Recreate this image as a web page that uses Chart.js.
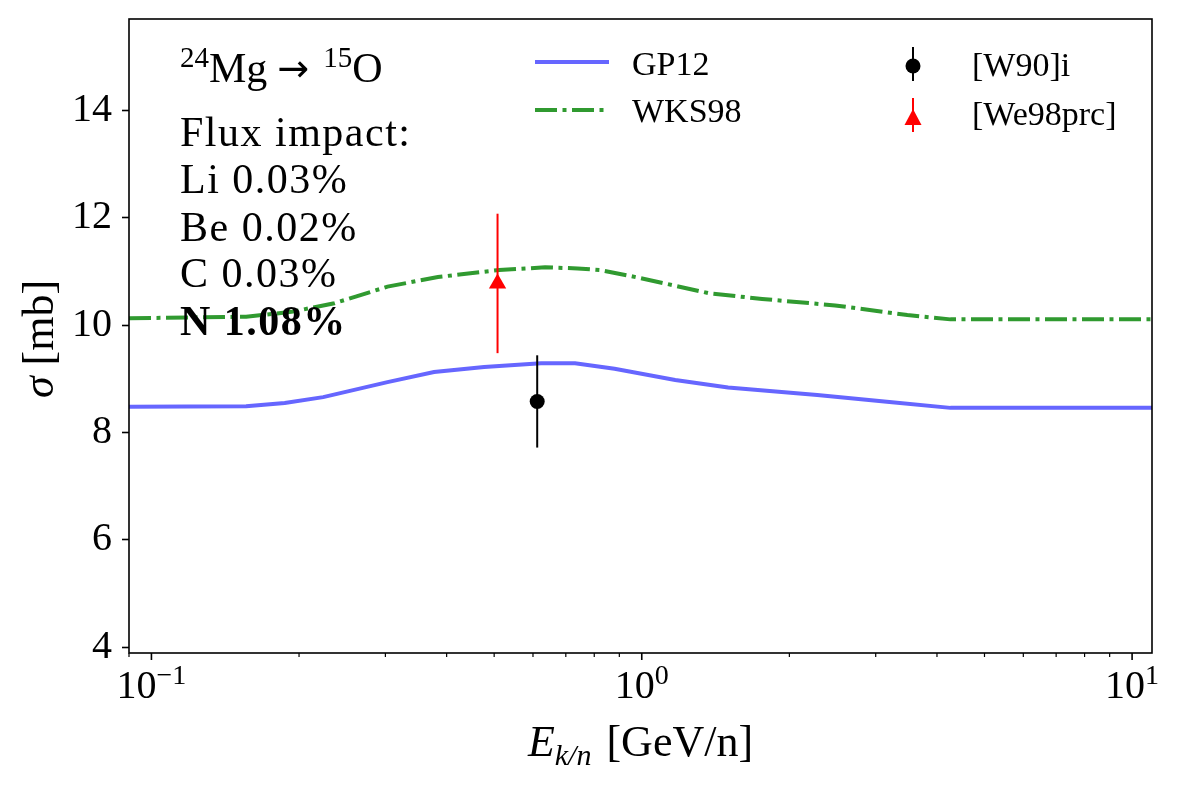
<!DOCTYPE html>
<html><head><meta charset="utf-8">
<script src="https://cdn.jsdelivr.net/npm/chart.js@4.4.0/dist/chart.umd.min.js"></script>
<style>html,body{margin:0;padding:0;background:#fff;}</style>
</head><body>
<canvas id="c" width="1177" height="787"></canvas>
<script>
// ---- data ----
const gpE      = [0.09, 0.156, 0.187, 0.224, 0.303, 0.377, 0.477, 0.623, 0.731, 0.88, 1.17, 1.5, 2.28, 3.2, 4.26, 11];
const gpSigma  = [8.48, 8.49, 8.55, 8.66, 8.94, 9.13, 9.22, 9.29, 9.29, 9.19, 8.98, 8.84, 8.70, 8.57, 8.46, 8.46];
const wksE     = [0.09, 0.156, 0.193, 0.236, 0.303, 0.384, 0.512, 0.635, 0.74, 0.822, 0.946, 1.153, 1.366, 1.76, 2.48, 3.48, 4.26, 11];
const wksSigma = [10.13, 10.16, 10.25, 10.41, 10.72, 10.90, 11.03, 11.08, 11.06, 11.03, 10.92, 10.75, 10.60, 10.49, 10.37, 10.19, 10.11, 10.11];
const w90E = [0.612], w90Sigma = [8.58], w90Err = [0.86];
const we98E = [0.508], we98Sigma = [10.78], we98Err = [1.30];
const yTicks = [4, 6, 8, 10, 12, 14];
const xMajorTicks = [0.1, 1, 10];
const xMajorExp = ['\u22121', '0', '1'];
const xMinorTicks = [0.09, 0.2, 0.3, 0.4, 0.5, 0.6, 0.7, 0.8, 0.9, 2, 3, 4, 5, 6, 7, 8, 9];
const xRange = [0.09, 10.98];
const yRange = [3.89, 15.71];
const seriesNames = ['GP12', 'WKS98', '[W90]i', '[We98prc]'];
const annotLines = ['Flux impact:', 'Li 0.03%', 'Be 0.02%', 'C 0.03%'];
const annotBold = 'N 1.08%';

const BLUE = 'rgb(102,102,255)';
const GREEN = 'rgb(48,154,48)';
const SERIF = "'Liberation Serif', 'DejaVu Serif', serif";
const DASHDOT = [22, 5.5, 4, 5.5];

const pts = (xs, ys) => xs.map((x, i) => ({x: x, y: ys[i]}));
const errSeg = (xs, ys, es) => [{x: xs[0], y: ys[0] - es[0]}, {x: xs[0], y: ys[0] + es[0]}];

function run(ctx, pieces, x, y) {
  let cx = x;
  for (const p of pieces) {
    if (p.gap) { cx += p.gap; continue; }
    ctx.font = p.font;
    ctx.fillText(p.t, cx, y + (p.dy || 0));
    cx += ctx.measureText(p.t).width;
  }
  return cx - x;
}
function runWidth(ctx, pieces) {
  let w = 0;
  for (const p of pieces) {
    if (p.gap) { w += p.gap; continue; }
    ctx.font = p.font; w += ctx.measureText(p.t).width;
  }
  return w;
}

const deco = {
  id: 'deco',
  afterDatasetsDraw(chart) {
    const {ctx, chartArea: a} = chart;
    ctx.save();
    ctx.strokeStyle = '#000'; ctx.lineWidth = 1.6;
    ctx.strokeRect(a.left, a.top, a.right - a.left, a.bottom - a.top);
    ctx.restore();
  },
  afterDraw(chart) {
    const {ctx, chartArea: a} = chart;
    const xs = chart.scales.x;
    ctx.save();
    ctx.fillStyle = '#000'; ctx.strokeStyle = '#000';
    // x ticks
    ctx.lineWidth = 1.6;
    for (const v of xMajorTicks) {
      const px = xs.getPixelForValue(v);
      ctx.beginPath(); ctx.moveTo(px, a.bottom); ctx.lineTo(px, a.bottom + 7); ctx.stroke();
    }
    ctx.lineWidth = 1.2;
    for (const v of xMinorTicks) {
      if (v < xRange[0] || v > xRange[1]) continue;
      const px = xs.getPixelForValue(v);
      ctx.beginPath(); ctx.moveTo(px, a.bottom); ctx.lineTo(px, a.bottom + 4); ctx.stroke();
    }
    // x tick labels 10^n
    ctx.textBaseline = 'alphabetic'; ctx.textAlign = 'left';
    xMajorTicks.forEach((v, i) => {
      const px = xs.getPixelForValue(v);
      const pcs = [{t: '10', font: '40px ' + SERIF}, {t: xMajorExp[i], font: '28px ' + SERIF, dy: -14}];
      const w = runWidth(ctx, pcs);
      run(ctx, pcs, px - w / 2, 698);
    });
    // x title
    const xt = [{t: 'E', font: 'italic 44px ' + SERIF}, {t: 'k/n', font: 'italic 30px ' + SERIF, dy: 9},
                {gap: 4}, {t: ' [GeV/n]', font: '44px ' + SERIF}];
    const xtw = runWidth(ctx, xt);
    run(ctx, xt, (a.left + a.right) / 2 - xtw / 2, 756);
    // y title
    ctx.save();
    ctx.translate(53, (a.top + a.bottom) / 2 + 3);
    ctx.rotate(-Math.PI / 2);
    const yt = [{t: '\u03c3', font: 'italic 44px ' + SERIF}, {t: ' [mb]', font: '44px ' + SERIF}];
    const ytw = runWidth(ctx, yt);
    run(ctx, yt, -ytw / 2, 0);
    ctx.restore();
    // annotation
    const big = '42px ' + SERIF, sup = '29px ' + SERIF;
    run(ctx, [{t: '24', font: sup, dy: -15}, {t: 'Mg', font: big}, {gap: 10},
              {t: '\u2192', font: "38px 'DejaVu Sans', sans-serif", dy: -1}, {gap: 14},
              {t: '15', font: sup, dy: -15}, {t: 'O', font: big}], 180, 82);
    const bl = [146, 193, 241, 287];
    ctx.font = big;
    try { ctx.letterSpacing = '1.5px'; } catch (e) {}
    annotLines.forEach((t, i) => ctx.fillText(t, 180, bl[i]));
    ctx.font = 'bold 42px ' + SERIF;
    ctx.fillText(annotBold, 180, 335);
    try { ctx.letterSpacing = '0px'; } catch (e) {}
    // legend
    ctx.lineWidth = 4; ctx.lineCap = 'butt';
    ctx.strokeStyle = BLUE;
    ctx.beginPath(); ctx.moveTo(535, 62); ctx.lineTo(609, 62); ctx.stroke();
    ctx.strokeStyle = GREEN; ctx.setLineDash(DASHDOT);
    ctx.beginPath(); ctx.moveTo(535, 110); ctx.lineTo(609, 110); ctx.stroke();
    ctx.setLineDash([]);
    ctx.lineWidth = 2;
    ctx.strokeStyle = '#000';
    ctx.beginPath(); ctx.moveTo(913, 47); ctx.lineTo(913, 81); ctx.stroke();
    ctx.beginPath(); ctx.arc(913, 66, 7.5, 0, Math.PI * 2); ctx.fill();
    ctx.strokeStyle = 'red'; ctx.fillStyle = 'red';
    ctx.beginPath(); ctx.moveTo(913, 98); ctx.lineTo(913, 132); ctx.stroke();
    ctx.beginPath(); ctx.moveTo(913, 109); ctx.lineTo(921.5, 125); ctx.lineTo(904.5, 125); ctx.closePath(); ctx.fill();
    ctx.fillStyle = '#000';
    ctx.font = '34px ' + SERIF;
    ctx.fillText(seriesNames[0], 632, 75);
    ctx.fillText(seriesNames[1], 632, 122);
    ctx.fillText(seriesNames[2], 972, 76);
    ctx.fillText(seriesNames[3], 972, 125);
    ctx.restore();
  }
};

new Chart(document.getElementById('c'), {
  type: 'scatter',
  data: {
    datasets: [
      {label: seriesNames[0], data: pts(gpE, gpSigma), showLine: true, borderColor: BLUE, borderWidth: 4,
       pointRadius: 0, tension: 0, order: 10},
      {label: seriesNames[1], data: pts(wksE, wksSigma), showLine: true, borderColor: GREEN, borderWidth: 4,
       borderDash: DASHDOT, borderCapStyle: 'butt', pointRadius: 0, tension: 0, order: 9},
      {label: seriesNames[2] + ' err', data: errSeg(w90E, w90Sigma, w90Err), showLine: true, borderColor: '#000',
       borderWidth: 2, pointRadius: 0, order: 4},
      {label: seriesNames[2], data: pts(w90E, w90Sigma), pointStyle: 'circle', pointRadius: 7.5,
       backgroundColor: '#000', borderWidth: 0, order: 3},
      {label: seriesNames[3] + ' err', data: errSeg(we98E, we98Sigma, we98Err), showLine: true, borderColor: 'red',
       borderWidth: 2, pointRadius: 0, order: 2},
      {label: seriesNames[3], data: pts(we98E, we98Sigma), pointStyle: 'triangle', pointRadius: 10,
       backgroundColor: 'red', borderWidth: 0, order: 1}
    ]
  },
  options: {
    responsive: false, animation: false, devicePixelRatio: 1,
    layout: {padding: {top: 19, right: 25, left: 0, bottom: 0}},
    plugins: {legend: {display: false}, tooltip: {enabled: false}},
    events: [],
    scales: {
      x: {type: 'logarithmic', min: xRange[0], max: xRange[1],
          grid: {display: false}, border: {display: false}, ticks: {display: false},
          afterFit: s => { s.height = 134; s.paddingLeft = 0; s.paddingRight = 0; }},
      y: {type: 'linear', min: yRange[0], max: yRange[1],
          afterBuildTicks: s => { s.ticks = yTicks.map(v => ({value: v})); },
          grid: {drawOnChartArea: false, drawTicks: true, tickLength: 7, tickWidth: 1.6, tickColor: '#000'},
          border: {display: false},
          ticks: {color: '#000', padding: 10, font: {family: SERIF, size: 40}, callback: v => String(v)},
          afterFit: s => { s.width = 129; s.paddingTop = 0; s.paddingBottom = 0; }}
    }
  },
  plugins: [deco]
});
</script>
</body></html>
